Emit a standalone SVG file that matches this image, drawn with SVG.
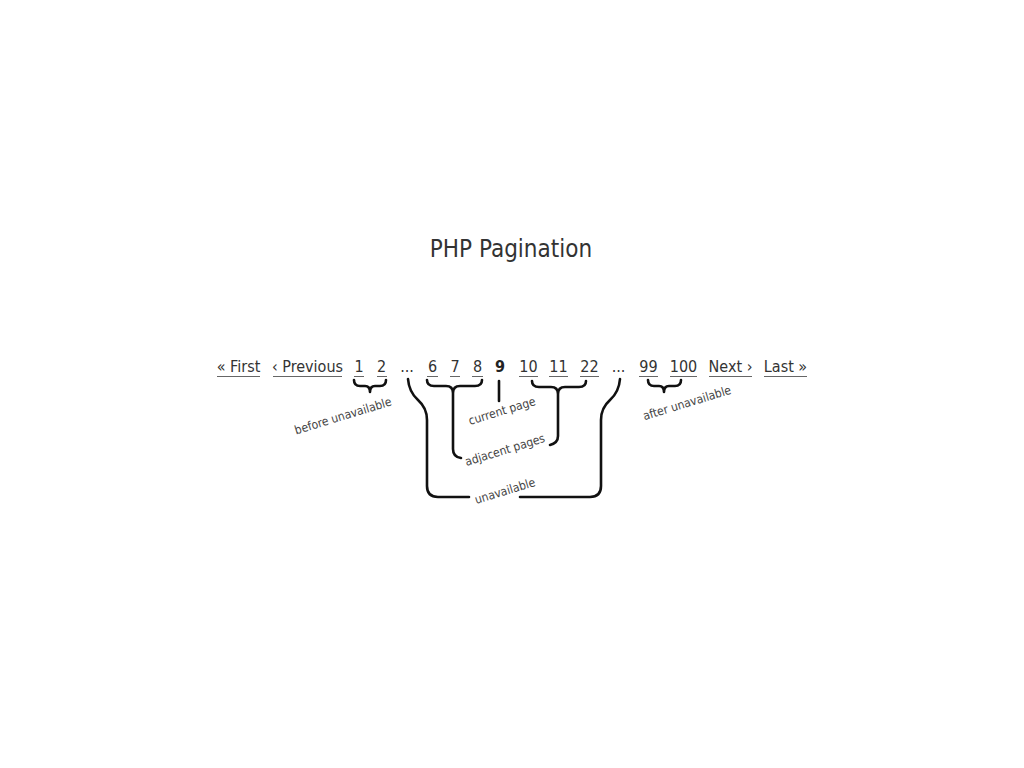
<svg xmlns="http://www.w3.org/2000/svg" width="1024" height="768" viewBox="0 0 1024 768">
<style>
text{font-family:"DejaVu Sans Condensed","DejaVu Sans",sans-serif;font-stretch:condensed;fill:#333}
.title{font-size:24px;text-anchor:middle}
.pg{font-size:16px;text-anchor:middle}
.cur{font-weight:bold;fill:#222}
.lbl{font-size:12px;text-anchor:middle;fill:#444}
.ul{stroke:#666;stroke-width:1}
.br{fill:none;stroke:#111;stroke-width:2.6;stroke-linecap:round;stroke-linejoin:round}
</style>
<rect width="1024" height="768" fill="#fff"/>
<g id="title"><text class="title" x="511" y="257">PHP Pagination</text></g>
<g id="pagination">
<g id="first"><text class="pg" x="238.5" y="372">« First</text><line class="ul" x1="217" y1="376.5" x2="260" y2="376.5"/></g>
<g id="previous"><text class="pg" x="307.5" y="372">‹ Previous</text><line class="ul" x1="273" y1="376.5" x2="342" y2="376.5"/></g>
<g id="p1"><text class="pg" x="359" y="372">1</text><line class="ul" x1="354" y1="376.5" x2="364" y2="376.5"/></g>
<g id="p2"><text class="pg" x="381.5" y="372">2</text><line class="ul" x1="377" y1="376.5" x2="387" y2="376.5"/></g>
<g id="dots1"><text class="pg" x="407" y="372">...</text></g>
<g id="p6"><text class="pg" x="432.5" y="372">6</text><line class="ul" x1="427" y1="376.5" x2="438" y2="376.5"/></g>
<g id="p7"><text class="pg" x="455" y="372">7</text><line class="ul" x1="450" y1="376.5" x2="460" y2="376.5"/></g>
<g id="p8"><text class="pg" x="477.5" y="372">8</text><line class="ul" x1="472" y1="376.5" x2="483" y2="376.5"/></g>
<g id="p9"><text class="pg cur" x="500" y="372">9</text></g>
<g id="p10"><text class="pg" x="528.5" y="372">10</text><line class="ul" x1="519" y1="376.5" x2="538" y2="376.5"/></g>
<g id="p11"><text class="pg" x="558.5" y="372">11</text><line class="ul" x1="549" y1="376.5" x2="568" y2="376.5"/></g>
<g id="p22"><text class="pg" x="589.5" y="372">22</text><line class="ul" x1="580" y1="376.5" x2="599" y2="376.5"/></g>
<g id="dots2"><text class="pg" x="618.5" y="372">...</text></g>
<g id="p99"><text class="pg" x="648.5" y="372">99</text><line class="ul" x1="639" y1="376.5" x2="658" y2="376.5"/></g>
<g id="p100"><text class="pg" x="683.5" y="372">100</text><line class="ul" x1="670" y1="376.5" x2="697" y2="376.5"/></g>
<g id="next"><text class="pg" x="730.5" y="372">Next ›</text><line class="ul" x1="709" y1="376.5" x2="752" y2="376.5"/></g>
<g id="last"><text class="pg" x="785.5" y="372">Last »</text><line class="ul" x1="764" y1="376.5" x2="807" y2="376.5"/></g>
</g>
<g id="connectors">
<path class="br" d="M354,380 Q354,386 360,386 L365,386 Q370,386 370,392 Q370,386 375,386 L380,386 Q386,386 386,380"/>
<path class="br" d="M427,380 Q427,386 434,386 L446,386 Q453,386 453,393 Q453,386 460,386 L475,386 Q482,386 482,380 M453,393 L453,449 Q453,457 461,458"/>
<path class="br" d="M499,381 L499,401"/>
<path class="br" d="M532,381 Q532,387 539,387 L551,387 Q558,387 558,394 Q558,387 565,387 L579,387 Q586,387 586,381 M558,394 L558,436 Q558,443 550,445"/>
<path class="br" d="M408,379 Q409,392 418,400 Q427,408 427,420 L427,486 Q427,497 438,497 L469,497"/>
<path class="br" d="M520,497 L590,497 Q601,497 601,486 L601,420 Q601,408 610,400 Q619,392 620,379"/>
<path class="br" d="M648,380 Q648,386 654,386 L659,386 Q664,386 664,392 Q664,386 669,386 L675,386 Q681,386 681,380"/>
</g>
<g id="labels">
<g id="lbl-before"><text class="lbl" transform="translate(343,416) rotate(-17)" y="4">before unavailable</text></g>
<g id="lbl-current"><text class="lbl" transform="translate(502,411) rotate(-17)" y="4">current page</text></g>
<g id="lbl-adjacent"><text class="lbl" transform="translate(505,450) rotate(-17)" y="4">adjacent pages</text></g>
<g id="lbl-unavailable"><text class="lbl" transform="translate(505,491) rotate(-17)" y="4">unavailable</text></g>
<g id="lbl-after"><text class="lbl" transform="translate(687,403) rotate(-17)" y="4">after unavailable</text></g>
</g>
</svg>
